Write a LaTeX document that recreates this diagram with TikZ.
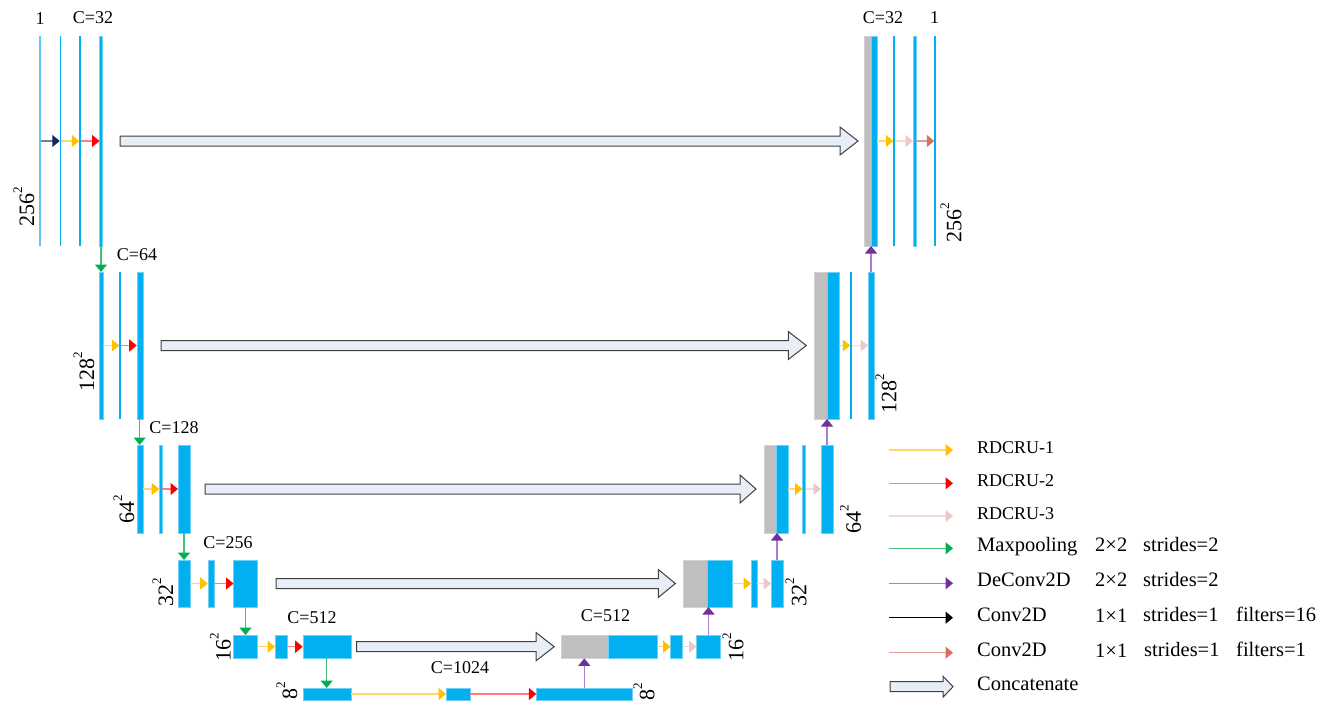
\documentclass[tikz,border=0pt]{standalone}
\usepackage{fontspec}
\setmainfont{Liberation Serif}
\usepackage{tikz}
\usetikzlibrary{arrows.meta,calc}

\definecolor{BarBlue} {HTML}{00B0F0}
\definecolor{BarEdge} {HTML}{6FD0F5}
\definecolor{LineBlue}{HTML}{5CC9F2}
\definecolor{CopyGray}{HTML}{BFBFBF}
\definecolor{CatFill} {HTML}{E8EEF8}
\definecolor{RuA} {HTML}{FFC000} \definecolor{RuAl} {HTML}{FFD966}
\definecolor{RuB} {HTML}{FF0000} \definecolor{RuBl} {HTML}{FF7C80}
\definecolor{RuC} {HTML}{EBC9C9} \definecolor{RuCl} {HTML}{F1DADA}
\definecolor{PoolG}{HTML}{00B050} \definecolor{PoolGl}{HTML}{45BF77}
\definecolor{UpP} {HTML}{7030A0} \definecolor{UpPl} {HTML}{A880CC}
\definecolor{ConvN}{HTML}{14285A} \definecolor{ConvNl}{HTML}{7080A0}
\definecolor{ConvS}{HTML}{D9705F} \definecolor{ConvSl}{HTML}{E39C93}

% concatenate arrow: start, tip, head length, half head height
\newcommand{\catarrow}[4]{%
  \draw[cat] ($(#1)+(0,-5)$) -- ($(#2)+(-#3,-5)$) -- ($(#2)+(-#3,-#4)$) -- (#2)
    -- ($(#2)+(-#3,#4)$) -- ($(#2)+(-#3,5)$) -- ($(#1)+(0,5)$) -- cycle;}
% spatial size label
\newcommand{\sqsize}[1]{#1\raisebox{0.55em}{\fontsize{13}{13}\selectfont 2}}

\begin{document}
\begin{tikzpicture}[x=1pt,y=-1pt,
    fmap/.style={rectangle,fill=BarBlue,draw=BarEdge,line width=0.4pt,
                 inner sep=0pt,outer sep=0pt,minimum width=#1},
    fline/.style={rectangle,fill=BarBlue,inner sep=0pt,outer sep=0pt,
                  minimum width=#1},
    copyfm/.style={rectangle,fill=CopyGray,draw=CopyGray!70!white,line width=0.4pt,
                   inner sep=0pt,outer sep=0pt,minimum width=#1},
    h1/.style={minimum height=210}, h2/.style={minimum height=147},
    h3/.style={minimum height=88},  h4/.style={minimum height=47},
    h5/.style={minimum height=23.3},h6/.style={minimum height=12},
    tip/.style={-{Triangle[length=7.5pt,width=12pt,color=#1]}},
    ru1/.style={draw=RuAl,line width=1.5pt,tip=RuA},
    ru2/.style={draw=RuBl,line width=1.5pt,tip=RuB},
    ru3/.style={draw=RuCl,line width=1.5pt,tip=RuC},
    cv16/.style={draw=ConvNl,line width=1.5pt,tip=ConvN},
    cvk/.style={draw=black,line width=1.5pt,tip=black},
    cv1/.style={draw=ConvSl,line width=1.5pt,tip=ConvS},
    maxpool/.style={draw=PoolGl,line width=1.2pt,tip=PoolG},
    deconv/.style={draw=UpPl,line width=1.2pt,tip=UpP},
    cat/.style={draw=black!75,fill=CatFill,line width=1pt,line join=miter},
    lbl/.style={inner sep=0pt,font=\fontsize{18}{20}\selectfont,
                text height=0.66em,text depth=0pt},
    lgl/.style={lbl,anchor=west,font=\fontsize{20.5}{22}\selectfont},
    lgs/.style={lbl,anchor=west},
    dim/.style={inner sep=0pt,rotate=90,font=\fontsize{22}{24}\selectfont}]
  \useasboundingbox (0,0) rectangle (1323,710);

  % level 1
  \node[fline=1.5,fill=LineBlue,h1] (l1a) at (40,141) {};
  \node[fline=1.5,h1] (l1b) at (60.5,141) {};
  \node[fline=1.5,h1] (l1c) at (80,141) {};
  \node[fmap=3,h1]    (l1d) at (101,141) {};
  \node[copyfm=7,h1]  (r1g) at (867.5,141) {};
  \node[fmap=6,h1]    (r1a) at (874,141) {};
  \node[fline=1.5,h1] (r1b) at (894,141) {};
  \node[fmap=3,h1]    (r1c) at (914.5,141) {};
  \node[fline=1.5,h1] (r1d) at (935,141) {};

  % level 2
  \node[fmap=3.5,h2]  (l2a) at (101,345.5) {};
  \node[fline=1.5,h2] (l2b) at (120,345.5) {};
  \node[fmap=6,h2]    (l2c) at (139.7,345.5) {};
  \node[copyfm=12.4,h2] (r2g) at (820.5,345.5) {};
  \node[fmap=12,h2]   (r2a) at (832.7,345.5) {};
  \node[fline=1.5,h2] (r2b) at (851,345.5) {};
  \node[fmap=6,h2]    (r2c) at (871,345.5) {};

  % level 3
  \node[fmap=6,h3]    (l3a) at (139.7,489) {};
  \node[fmap=3,h3]    (l3b) at (160.7,489) {};
  \node[fmap=12,h3]   (l3c) at (184,489) {};
  \node[copyfm=12,h3] (r3g) at (770,489) {};
  \node[fmap=12,h3]   (r3a) at (782,489) {};
  \node[fmap=3,h3]    (r3b) at (804,489) {};
  \node[fmap=12,h3]   (r3c) at (827,489) {};

  % level 4
  \node[fmap=12,h4]   (l4a) at (184,583.5) {};
  \node[fmap=6.6,h4]  (l4b) at (211,583.5) {};
  \node[fmap=24,h4]   (l4c) at (245.5,583.5) {};
  \node[copyfm=24,h4] (r4g) at (695.3,583.5) {};
  \node[fmap=24.4,h4] (r4a) at (719.5,583.5) {};
  \node[fmap=6,h4]    (r4b) at (754,583.5) {};
  \node[fmap=12,h4]   (r4c) at (777,583.5) {};

  % level 5
  \node[fmap=24,h5]   (l5a) at (245.5,646.7) {};
  \node[fmap=12,h5]   (l5b) at (281,646.7) {};
  \node[fmap=48,h5]   (l5c) at (326.7,646.7) {};
  \node[copyfm=47.6,h5] (r5g) at (584.5,646.7) {};
  \node[fmap=48.4,h5] (r5a) at (632.5,646.7) {};
  \node[fmap=12,h5]   (r5b) at (676.5,646.7) {};
  \node[fmap=24,h5]   (r5c) at (708.5,646.7) {};

  % bottom
  \node[fmap=48,h6]   (b1) at (326.7,694) {};
  \node[fmap=24,h6]   (b2) at (458,694) {};
  \node[fmap=96,h6]   (b3) at (584.3,694) {};

  % units along each level
  \draw[cv16] (l1a) -- (l1b);  \draw[ru1] (l1b) -- (l1c);  \draw[ru2] (l1c) -- (l1d);
  \draw[ru1] (r1a) -- (r1b);   \draw[ru3] (r1b) -- (r1c);  \draw[cv1] (r1c) -- (r1d);
  \draw[ru1] (l2a) -- (l2b);   \draw[ru2] (l2b) -- (l2c);
  \draw[ru1] (r2a) -- (r2b);   \draw[ru3] (r2b) -- (r2c);
  \draw[ru1] (l3a) -- (l3b);   \draw[ru2] (l3b) -- (l3c);
  \draw[ru1] (r3a) -- (r3b);   \draw[ru3] (r3b) -- (r3c);
  \draw[ru1] (l4a) -- (l4b);   \draw[ru2] (l4b) -- (l4c);
  \draw[ru1] (r4a) -- (r4b);   \draw[ru3] (r4b) -- (r4c);
  \draw[ru1] (l5a) -- (l5b);   \draw[ru2] (l5b) -- (l5c);
  \draw[ru1] (r5a) -- (r5b);   \draw[ru3] (r5b) -- (r5c);
  \draw[ru1] (b1) -- (b2);     \draw[ru2] (b2) -- (b3);

  % down and up
  \draw[maxpool] (l1d) -- (l2a);
  \draw[maxpool] (l2c) -- (l3a);
  \draw[maxpool] (l3c) -- (l4a);
  \draw[maxpool] (l4c) -- (l5a);
  \draw[maxpool] (l5c) -- (b1);
  \draw[deconv] (b3)  -- (b3 |- r5g.south);
  \draw[deconv] (r5c) -- (r5c |- r4g.south);
  \draw[deconv] (r4c) -- (r4c |- r3g.south);
  \draw[deconv] (r3c) -- (r3c |- r2g.south);
  \draw[deconv] (r2c) -- (r2c |- r1g.south);

  % skip connections
  \coordinate (k1s) at ([xshift=17.5]l1d.east);  \coordinate (k1e) at ([xshift=-6]r1g.west);
  \coordinate (k2s) at ([xshift=18.3]l2c.east);  \coordinate (k2e) at ([xshift=-8]r2g.west);
  \coordinate (k3s) at ([xshift=15]l3c.east);    \coordinate (k3e) at ([xshift=-8]r3g.west);
  \coordinate (k4s) at ([xshift=18.5]l4c.east);  \coordinate (k4e) at ([xshift=-8]r4g.west);
  \coordinate (k5s) at ([xshift=6]l5c.east);     \coordinate (k5e) at ([xshift=-6.5]r5g.west);
  \catarrow{k1s}{k1e}{18}{14}
  \catarrow{k2s}{k2e}{18}{14}
  \catarrow{k3s}{k3e}{16}{14}
  \catarrow{k4s}{k4e}{17}{14}
  \catarrow{k5s}{k5e}{18}{14}

  % channels
  \node[lbl] (t1)  at (40,21)     {1};
  \node[lbl] (t2)  at (93,20.5)   {C=32};
  \node[lbl] (t3)  at (883,20.5)  {C=32};
  \node[lbl] (t4)  at (934.5,20.5){1};
  \node[lbl] (t5)  at (137,257)   {C=64};
  \node[lbl] (t6)  at (174,430)   {C=128};
  \node[lbl] (t7)  at (228,545)   {C=256};
  \node[lbl] (t8)  at (312,620)   {C=512};
  \node[lbl] (t9)  at (605.5,618) {C=512};
  \node[lbl] (t10) at (460,670)   {C=1024};

  % sizes
  \node[dim] (s1)  at (24,207)    {\sqsize{256}};
  \node[dim] (s2)  at (951,223)   {\sqsize{256}};
  \node[dim] (s3)  at (84,372)    {\sqsize{128}};
  \node[dim] (s4)  at (886,394)   {\sqsize{128}};
  \node[dim] (s5)  at (124,509)   {\sqsize{64}};
  \node[dim] (s6)  at (850.5,519) {\sqsize{64}};
  \node[dim] (s7)  at (163,592)   {\sqsize{32}};
  \node[dim] (s8)  at (796,592)   {\sqsize{32}};
  \node[dim] (s9)  at (220.5,647) {\sqsize{16}};
  \node[dim] (s10) at (733,647)   {\sqsize{16}};
  \node[dim] (s11) at (287,691)   {\sqsize{8}};
  \node[dim] (s12) at (644,692)   {\sqsize{8}};

  % legend
  \coordinate (g1a) at (889,450);   \coordinate (g1b) at (953,450);
  \coordinate (g2a) at (889,483.3); \coordinate (g2b) at (953,483.3);
  \coordinate (g3a) at (889,516);   \coordinate (g3b) at (953,516);
  \coordinate (g4a) at (889,548.3); \coordinate (g4b) at (953,548.3);
  \coordinate (g5a) at (889,583.3); \coordinate (g5b) at (953,583.3);
  \coordinate (g6a) at (889,617.7); \coordinate (g6b) at (953,617.7);
  \coordinate (g7a) at (889,652.7); \coordinate (g7b) at (953,652.7);
  \coordinate (g8a) at (890,686.7); \coordinate (g8b) at (953,686.7);
  \draw[ru1] (g1a) -- (g1b);
  \draw[ru2] (g2a) -- (g2b);
  \draw[ru3] (g3a) -- (g3b);
  \draw[maxpool,line width=1.5pt] (g4a) -- (g4b);
  \draw[deconv,line width=1.5pt] (g5a) -- (g5b);
  \draw[cvk] (g6a) -- (g6b);
  \draw[cv1] (g7a) -- (g7b);
  \catarrow{g8a}{g8b}{10}{10.5}
  \node[lgs] (n1) at (977,450)   {RDCRU-1};
  \node[lgs] (n2) at (977,483.3) {RDCRU-2};
  \node[lgs] (n3) at (977,516)   {RDCRU-3};
  \node[lgl] (n4) at (977,548.3) {Maxpooling};
  \node[lgl] (n4k) at (1095,548.3) {2×2};
  \node[lgl] (n4s) at (1143,548.3) {strides=2};
  \node[lgl] (n5) at (977,583.3) {DeConv2D};
  \node[lgl] (n5k) at (1095,583.3) {2×2};
  \node[lgl] (n5s) at (1143,583.3) {strides=2};
  \node[lgl] (n6) at (977,617.7) {Conv2D};
  \node[lgl] (n6k) at (1095,619) {1×1};
  \node[lgl] (n6s) at (1143,617.7) {strides=1};
  \node[lgl] (n6f) at (1236,617.7) {filters=16};
  \node[lgl] (n7) at (977,652.7) {Conv2D};
  \node[lgl] (n7k) at (1095,654) {1×1};
  \node[lgl] (n7s) at (1144,652.7) {strides=1};
  \node[lgl] (n7f) at (1236,652.7) {filters=1};
  \node[lgl] (n8) at (977,686.7) {Concatenate};
\end{tikzpicture}
\end{document}
